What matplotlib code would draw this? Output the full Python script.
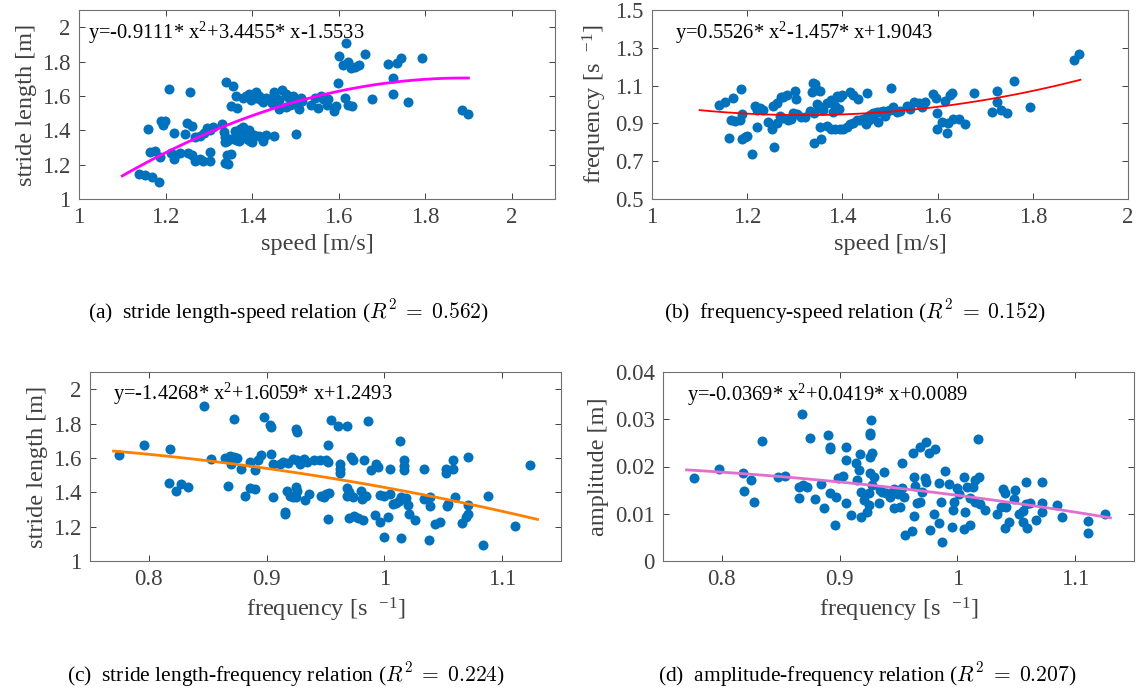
import numpy as np
import matplotlib
matplotlib.use('Agg')
import matplotlib.pyplot as plt

plt.rcParams['font.family'] = ['Liberation Serif', 'DejaVu Serif']
plt.rcParams['mathtext.fontset'] = 'custom'
plt.rcParams['mathtext.rm'] = 'Liberation Serif'
plt.rcParams['mathtext.it'] = 'Liberation Serif:italic'

# (a) speed vs stride length
a_speed = [1.139, 1.153, 1.169, 1.186, 1.160, 1.165, 1.176, 1.188, 1.190, 1.195, 1.199, 1.209,
           1.219, 1.213, 1.222, 1.219, 1.233, 1.244, 1.249, 1.261, 1.256, 1.253, 1.261, 1.268,
           1.279, 1.268, 1.279, 1.289, 1.296, 1.303, 1.310, 1.286, 1.302, 1.303, 1.330, 1.334,
           1.338, 1.341, 1.338, 1.349, 1.340, 1.356, 1.338, 1.344, 1.342, 1.351, 1.352, 1.362,
           1.366, 1.360, 1.365, 1.372, 1.378, 1.380, 1.385, 1.370, 1.392, 1.395, 1.388, 1.400,
           1.405, 1.362, 1.378, 1.385, 1.392, 1.400, 1.408, 1.410, 1.415, 1.420, 1.425, 1.432,
           1.440, 1.445, 1.450, 1.455, 1.398, 1.415, 1.425, 1.432, 1.450, 1.454, 1.462, 1.470,
           1.478, 1.482, 1.490, 1.495, 1.500, 1.462, 1.478, 1.488, 1.497, 1.501, 1.508, 1.512,
           1.515, 1.535, 1.545, 1.552, 1.560, 1.565, 1.572, 1.575, 1.590, 1.593, 1.598, 1.600,
           1.617, 1.611, 1.622, 1.629, 1.637, 1.646, 1.660, 1.614, 1.622, 1.630, 1.677, 1.714,
           1.734, 1.744, 1.793, 1.725, 1.725, 1.760, 1.886, 1.898]
a_stride = [1.144, 1.140, 1.130, 1.097, 1.410, 1.272, 1.282, 1.247, 1.456, 1.432, 1.452, 1.640,
            1.382, 1.265, 1.255, 1.232, 1.266, 1.377, 1.440, 1.425, 1.620, 1.265, 1.258, 1.220,
            1.232, 1.362, 1.368, 1.382, 1.415, 1.400, 1.418, 1.220, 1.222, 1.275, 1.437, 1.390,
            1.362, 1.335, 1.330, 1.350, 1.682, 1.655, 1.208, 1.202, 1.258, 1.264, 1.543, 1.597,
            1.530, 1.395, 1.372, 1.405, 1.420, 1.385, 1.360, 1.335, 1.400, 1.335, 1.350, 1.330,
            1.375, 1.345, 1.585, 1.600, 1.610, 1.598, 1.620, 1.585, 1.600, 1.575, 1.565, 1.590,
            1.580, 1.560, 1.620, 1.590, 1.575, 1.365, 1.335, 1.375, 1.367, 1.587, 1.575, 1.632,
            1.610, 1.595, 1.590, 1.600, 1.580, 1.525, 1.535, 1.548, 1.555, 1.380, 1.525, 1.585,
            1.570, 1.545, 1.585, 1.530, 1.600, 1.580, 1.545, 1.580, 1.510, 1.540, 1.673, 1.832,
            1.907, 1.780, 1.795, 1.760, 1.770, 1.780, 1.843, 1.590, 1.545, 1.540, 1.583, 1.783,
            1.790, 1.823, 1.818, 1.703, 1.610, 1.566, 1.518, 1.495]

# (b) speed vs frequency
b_speed = [1.140, 1.154, 1.170, 1.187, 1.161, 1.166, 1.175, 1.185, 1.189, 1.190, 1.196, 1.200,
           1.210, 1.217, 1.220, 1.226, 1.220, 1.234, 1.243, 1.252, 1.256, 1.255, 1.262, 1.270,
           1.276, 1.284, 1.262, 1.268, 1.275, 1.285, 1.292, 1.300, 1.302, 1.296, 1.305, 1.312,
           1.322, 1.338, 1.343, 1.336, 1.346, 1.352, 1.331, 1.340, 1.346, 1.353, 1.360, 1.367,
           1.340, 1.352, 1.355, 1.367, 1.375, 1.385, 1.395, 1.402, 1.409, 1.416, 1.423, 1.430,
           1.437, 1.444, 1.451, 1.455, 1.458, 1.465, 1.472, 1.479, 1.486, 1.493, 1.500, 1.450,
           1.465, 1.475, 1.490, 1.376, 1.381, 1.388, 1.395, 1.400, 1.416, 1.423, 1.432, 1.385,
           1.392, 1.380, 1.451, 1.502, 1.507, 1.514, 1.520, 1.535, 1.542, 1.550, 1.560, 1.567,
           1.574, 1.590, 1.596, 1.598, 1.598, 1.610, 1.619, 1.622, 1.615, 1.625, 1.630, 1.633,
           1.645, 1.657, 1.676, 1.715, 1.724, 1.724, 1.734, 1.745, 1.761, 1.795, 1.886, 1.897]
b_freq = [0.997, 1.015, 1.037, 1.080, 0.824, 0.918, 0.914, 0.918, 0.950, 0.820, 0.830, 0.833,
          0.738, 0.990, 0.970, 0.980, 0.882, 0.970, 0.905, 0.873, 0.777, 0.990, 1.010, 1.040,
          1.040, 1.050, 0.900, 0.938, 0.930, 0.920, 0.925, 1.070, 1.027, 0.953, 0.950, 0.935,
          0.935, 1.115, 1.111, 1.067, 1.075, 1.070, 0.968, 0.955, 1.003, 0.985, 0.970, 1.010,
          0.794, 0.882, 0.820, 0.885, 0.873, 0.868, 0.868, 0.873, 0.882, 0.899, 0.902, 0.916,
          0.920, 0.925, 0.933, 0.920, 0.945, 0.955, 0.958, 0.958, 0.963, 0.963, 0.970, 0.895,
          0.935, 0.905, 0.940, 1.022, 1.010, 1.045, 1.042, 1.050, 1.065, 1.050, 1.030, 0.990,
          0.975, 0.960, 1.060, 1.088, 0.988, 0.960, 0.965, 0.990, 0.975, 1.015, 1.010, 0.985,
          1.015, 1.055, 1.037, 0.953, 0.873, 0.905, 0.850, 0.900, 1.020, 1.050, 1.060, 0.925,
          0.925, 0.898, 1.062, 0.960, 1.073, 1.015, 0.970, 0.953, 1.124, 0.988, 1.238, 1.267]

# (c) frequency vs stride length
c_freq = [0.775, 0.796, 0.818, 0.817, 0.823, 0.827, 0.833, 0.847, 0.853, 0.865, 0.869, 0.870,
          0.872, 0.875, 0.867, 0.872, 0.878, 0.882, 0.886, 0.890, 0.886, 0.890, 0.893, 0.895,
          0.898, 0.903, 0.904, 0.904, 0.905, 0.905, 0.911, 0.914, 0.918, 0.922, 0.926, 0.916,
          0.916, 0.917, 0.920, 0.922, 0.925, 0.926, 0.925, 0.925, 0.926, 0.928, 0.932, 0.934,
          0.940, 0.945, 0.950, 0.952, 0.933, 0.936, 0.946, 0.949, 0.950, 0.953, 0.952, 0.952,
          0.955, 0.961, 0.968, 0.962, 0.962, 0.962, 0.968, 0.968, 0.970, 0.972, 0.973, 0.973,
          0.970, 0.974, 0.978, 0.982, 0.980, 0.981, 0.984, 0.983, 0.986, 0.989, 0.993, 0.995,
          0.992, 0.996, 0.996, 1.000, 1.000, 1.003, 1.005, 1.005, 1.007, 1.010, 1.012, 1.014,
          1.018, 1.020, 1.021, 1.026, 1.013, 1.017, 1.017, 1.017, 1.014, 1.034, 1.034, 1.039,
          1.039, 1.038, 1.043, 1.047, 1.052, 1.052, 1.053, 1.054, 1.058, 1.058, 1.060, 1.066,
          1.069, 1.071, 1.071, 1.071, 1.084, 1.088, 1.111, 1.124]
c_stride = [1.616, 1.678, 1.652, 1.454, 1.408, 1.450, 1.430, 1.905, 1.594, 1.600, 1.610, 1.565,
            1.604, 1.600, 1.437, 1.827, 1.536, 1.380, 1.427, 1.417, 1.577, 1.532, 1.586, 1.616,
            1.839, 1.794, 1.777, 1.625, 1.567, 1.373, 1.567, 1.577, 1.571, 1.596, 1.590, 1.276,
            1.285, 1.410, 1.378, 1.375, 1.433, 1.410, 1.375, 1.771, 1.750, 1.567, 1.596, 1.577,
            1.586, 1.590, 1.586, 1.577, 1.357, 1.390, 1.380, 1.370, 1.390, 1.395, 1.674, 1.247,
            1.823, 1.784, 1.784, 1.567, 1.538, 1.513, 1.427, 1.380, 1.400, 1.606, 1.590, 1.375,
            1.250, 1.260, 1.250, 1.240, 1.410, 1.362, 1.381, 1.586, 1.815, 1.528, 1.567, 1.548,
            1.266, 1.227, 1.383, 1.377, 1.140, 1.256, 1.392, 1.538, 1.330, 1.340, 1.350, 1.370,
            1.365, 1.325, 1.275, 1.240, 1.699, 1.586, 1.550, 1.528, 1.136, 1.538, 1.363, 1.373,
            1.320, 1.124, 1.217, 1.227, 1.538, 1.510, 1.320, 1.330, 1.586, 1.535, 1.370, 1.221,
            1.256, 1.276, 1.324, 1.606, 1.095, 1.377, 1.204, 1.561]

# (d) frequency vs amplitude
d_freq = [0.7766, 0.7972, 0.8181, 0.8189, 0.8246, 0.8274, 0.8345, 0.8477, 0.8537, 0.8655, 0.8692,
          0.8726, 0.8655, 0.8684, 0.8746, 0.8788, 0.8839, 0.8867, 0.8901, 0.8915, 0.8918, 0.8918,
          0.8966, 0.8960, 0.8986, 0.9031, 0.9051, 0.9093, 0.9051, 0.9056, 0.9136, 0.9164, 0.9169,
          0.9178, 0.9150, 0.9178, 0.9206, 0.9234, 0.9249, 0.9249, 0.9257, 0.9257, 0.9257, 0.9263,
          0.9271, 0.9257, 0.9277, 0.9291, 0.9333, 0.9342, 0.9376, 0.9390, 0.9432, 0.9466, 0.9494,
          0.9511, 0.9531, 0.9531, 0.9545, 0.9559, 0.9616, 0.9630, 0.9636, 0.9630, 0.9624, 0.9681,
          0.9737, 0.9757, 0.9814, 0.9658, 0.9686, 0.9729, 0.9737, 0.9701, 0.9766, 0.9805, 0.9842,
          0.9842, 0.9862, 0.9898, 0.9870, 0.9927, 0.9955, 0.9960, 0.9969, 0.9997, 1.0011, 1.0054,
          1.0054, 1.0068, 1.0082, 1.0105, 1.0110, 1.0133, 1.0153, 1.0172, 1.0181, 1.0195, 1.0237,
          1.0336, 1.0387, 1.0407, 1.0401, 1.0435, 1.0477, 1.0486, 1.0525, 1.0554, 1.0585, 1.0556,
          1.0590, 1.0613, 1.0669, 1.0718, 1.0718, 1.0718, 1.0845, 1.0887, 1.1113, 1.1113, 1.1254,
          0.9360, 0.9460, 1.0150, 1.0410, 1.0372, 1.0580]
d_amp = [0.01749, 0.01947, 0.01855, 0.01487, 0.01713, 0.01239, 0.02549, 0.01784, 0.01798, 0.01558,
         0.01607, 0.01572, 0.01338, 0.03101, 0.02598, 0.01310, 0.01628, 0.01112, 0.02669, 0.02421,
         0.02365, 0.01430, 0.01345, 0.00772, 0.01749, 0.01798, 0.01218, 0.00970, 0.02138, 0.02421,
         0.02081, 0.01926, 0.02258, 0.01465, 0.01713, 0.00935, 0.01288, 0.01041, 0.01182, 0.01430,
         0.02209, 0.02669, 0.02719, 0.02988, 0.02280, 0.01855, 0.01607, 0.01784, 0.01218, 0.01501,
         0.01890, 0.01430, 0.01359, 0.01112, 0.01416, 0.01147, 0.02081, 0.01536, 0.01345, 0.00545,
         0.00637, 0.00949, 0.01586, 0.01784, 0.02280, 0.02407, 0.02527, 0.02280, 0.02365, 0.01218,
         0.01253, 0.01749, 0.01678, 0.01465, 0.00651, 0.01005, 0.00807, 0.01642, 0.01253, 0.01912,
         0.00404, 0.01621, 0.00722, 0.01076, 0.01253, 0.01536, 0.01416, 0.01770, 0.00687, 0.01041,
         0.01572, 0.00758, 0.01324, 0.01572, 0.01713, 0.02577, 0.01784, 0.01204, 0.01076, 0.01005,
         0.01515, 0.01430, 0.00708, 0.00828, 0.01303, 0.01501, 0.01005, 0.01062, 0.01678, 0.00828,
         0.00708, 0.01218, 0.00878, 0.01678, 0.01218, 0.01041, 0.01182, 0.00935, 0.00850, 0.00595,
         0.00991, 0.01460, 0.01520, 0.01250, 0.01150, 0.01150, 0.01200]

# quadratic fit coefficients (as printed) and fit ranges
fit_a = [-0.9111, 3.4455, -1.5533]
fit_b = [0.5526, -1.457, 1.9043]
fit_c = [-1.4268, 1.6059, 1.2493]
fit_d = [-0.0369, 0.0419, 0.0089]
eq_a = 'y=-0.9111* x$^2$+3.4455* x-1.5533'
eq_b = 'y=0.5526* x$^2$-1.457* x+1.9043'
eq_c = 'y=-1.4268* x$^2$+1.6059* x+1.2493'
eq_d = 'y=-0.0369* x$^2$+0.0419* x+0.0089'

captions = ['(a)  stride length-speed relation ($R^2\\;=\\;0.562$)',
            '(b)  frequency-speed relation ($R^2\\;=\\;0.152$)',
            '(c)  stride length-frequency relation ($R^2\\;=\\;0.224$)',
            '(d)  amplitude-frequency relation ($R^2\\;=\\;0.207$)']

W, H = 1137, 693
fig = plt.figure(figsize=(W / 100, H / 100), dpi=100)
GREY = '#404040'
DOT = '#0072BD'


def px_axes(l, t, r, b):
    return fig.add_axes([l / W, 1 - b / H, (r - l) / W, (b - t) / H])


def style(ax, xlim, ylim, xticks, yticks, xlabel, ylabel, xfmt, yfmt):
    ax.set_xlim(*xlim)
    ax.set_ylim(*ylim)
    ax.set_xticks(xticks)
    ax.set_yticks(yticks)
    ax.set_xticklabels([xfmt(v) for v in xticks])
    ax.set_yticklabels([yfmt(v) for v in yticks])
    ax.tick_params(direction='in', top=True, right=True, length=4, width=0.7,
                   labelsize=16.5, colors=GREY, pad=6)
    for s in ax.spines.values():
        s.set_color('#707070')
        s.set_linewidth(0.8)
    ax.set_xlabel(xlabel, fontsize=17.5, color=GREY, labelpad=4)
    ax.set_ylabel(ylabel, fontsize=17.5, color=GREY, labelpad=4)


def g(v):
    return '{:g}'.format(round(v, 3))


# (a)
ax = px_axes(79, 10, 555, 199)
ax.scatter(a_speed, a_stride, s=52, color=DOT, linewidths=0, zorder=2)
xs = np.linspace(1.1, 1.9, 100)
ax.plot(xs, np.polyval(fit_a, xs), color='#FF00FF', lw=2.0, zorder=3)
ax.text(0.019, 0.88, eq_a, transform=ax.transAxes, fontsize=14.8, va='center', ha='left')
style(ax, (1, 2.1), (1, 2.1), [1, 1.2, 1.4, 1.6, 1.8, 2], [1, 1.2, 1.4, 1.6, 1.8, 2],
      'speed [m/s]', 'stride length [m]', g, g)

# (b)
ax = px_axes(652, 10, 1128, 199)
ax.scatter(b_speed, b_freq, s=52, color=DOT, linewidths=0, zorder=2)
xs = np.linspace(1.1, 1.9, 100)
ax.plot(xs, np.polyval(fit_b, xs), color='#FF0000', lw=1.3, zorder=3)
ax.text(0.048, 0.88, eq_b, transform=ax.transAxes, fontsize=14.8, va='center', ha='left')
style(ax, (1, 2), (0.5, 1.5), [1, 1.2, 1.4, 1.6, 1.8, 2], [0.5, 0.7, 0.9, 1.1, 1.3, 1.5],
      'speed [m/s]', 'frequency [s  $^{-1}$]', g, g)

# (c)
ax = px_axes(90, 372, 561, 561)
ax.scatter(c_freq, c_stride, s=52, color=DOT, linewidths=0, zorder=2)
xs = np.linspace(0.77, 1.13, 100)
ax.plot(xs, np.polyval(fit_c, xs), color='#FF8000', lw=2.0, zorder=3)
ax.text(0.049, 0.885, eq_c, transform=ax.transAxes, fontsize=14.8, va='center', ha='left')
style(ax, (0.75, 1.15), (1, 2.1), [0.8, 0.9, 1.0, 1.1], [1, 1.2, 1.4, 1.6, 1.8, 2],
      'frequency [s  $^{-1}$]', 'stride length [m]', g, g)

# (d)
ax = px_axes(663, 372, 1134, 561)
ax.scatter(d_freq, d_amp, s=52, color=DOT, linewidths=0, zorder=2)
xs = np.linspace(0.77, 1.13, 100)
ax.plot(xs, np.polyval(fit_d, xs), color='#E070D0', lw=2.0, zorder=3)
ax.text(0.051, 0.88, eq_d, transform=ax.transAxes, fontsize=14.8, va='center', ha='left')
style(ax, (0.75, 1.15), (0, 0.04), [0.8, 0.9, 1.0, 1.1], [0, 0.01, 0.02, 0.03, 0.04],
      'frequency [s  $^{-1}$]', 'amplitude [m]', g, g)

# sub-figure captions
for (cx, cy), txt in zip([(288, 312), (855, 312), (286, 675), (867, 675)], captions):
    fig.text(cx / W, 1 - cy / H, txt, fontsize=15.5, ha='center', va='center',
             math_fontfamily='cm', color='black')

fig.savefig('out.png', dpi=100)
